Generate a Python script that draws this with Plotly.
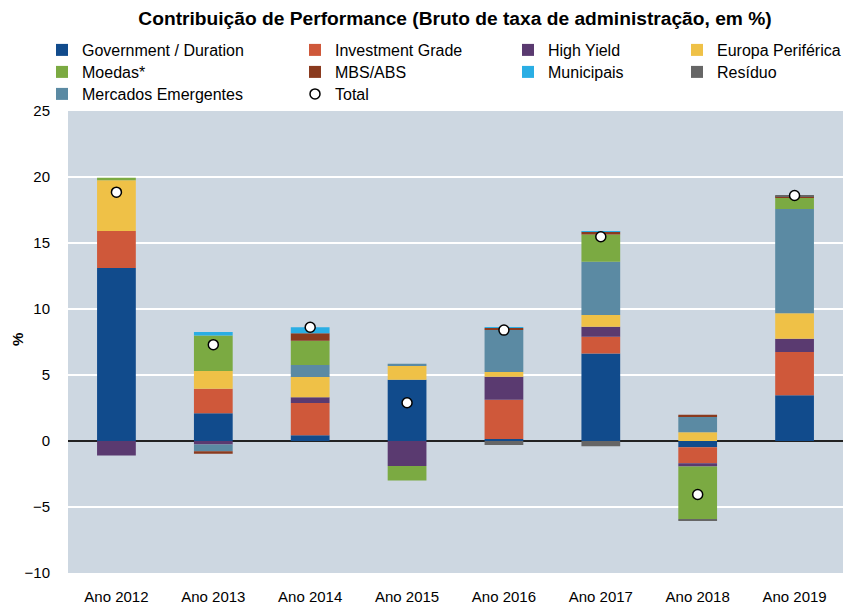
import plotly.graph_objects as go

years = ["Ano 2012", "Ano 2013", "Ano 2014", "Ano 2015", "Ano 2016", "Ano 2017", "Ano 2018", "Ano 2019"]
gov = [13.1, 2.1, 0.44, 4.64, 0.15, 6.63, -0.47, 3.46]
ig = [2.8, 1.86, 2.44, 0.0, 2.97, 1.26, -1.21, 3.28]
hy = [-1.1, -0.26, 0.43, -1.9, 1.75, 0.76, -0.25, 1.0]
ep = [3.85, 1.34, 1.54, 1.06, 0.35, 0.9, 0.67, 1.94]
em = [0.0, -0.51, 0.9, 0.15, 3.2, 4.03, 1.18, 7.9]
moedas = [0.2, 2.69, 1.84, -1.1, 0.0, 2.07, -4.0, 0.86]
mbs = [0.0, -0.2, 0.58, 0.0, 0.15, 0.2, 0.13, 0.05]
muni = [0.0, 0.26, 0.45, 0.0, 0.05, 0.05, 0.0, 0.0]
resid = [0.0, 0.0, 0.0, 0.0, -0.3, -0.4, -0.12, 0.1]
total = [18.85, 7.3, 8.62, 2.9, 8.4, 15.47, -4.05, 18.6]

FONT = "Liberation Sans, Arial, sans-serif"

# plot-area geometry in pixels (for placing the legend entries)
W, H = 843, 606
ML, MR, MT, MB = 68, 0, 111, 33
PW, PH = W - ML - MR, H - MT - MB

col_x = [42, 295, 508, 677]     # pixel x of each legend column
row_top = [33, 55, 77]          # pixel top of each legend row

series = [
    ("Government / Duration", gov, "#114B8C", (0, 0)),
    ("Investment Grade", ig, "#CF583A", (0, 1)),
    ("High Yield", hy, "#5A3A70", (0, 2)),
    ("Europa Periférica", ep, "#EFC147", (0, 3)),
    ("Mercados Emergentes", em, "#5B8AA3", (2, 0)),
    ("Moedas*", moedas, "#7BAA42", (1, 0)),
    ("MBS/ABS", mbs, "#8A3A1E", (1, 1)),
    ("Municipais", muni, "#2AAEE4", (1, 2)),
    ("Resíduo", resid, "#666666", (1, 3)),
]

fig = go.Figure()
legends = {}
n = 0
for name, vals, col, (r, c) in series:
    n += 1
    key = "legend" if n == 1 else f"legend{n}"
    legends[key] = (r, c)
    fig.add_trace(go.Bar(x=years, y=vals, name=name, marker=dict(color=col, line=dict(width=0)),
                         legend=key, showlegend=True))
n += 1
key = f"legend{n}"
legends[key] = (2, 1)
fig.add_trace(go.Scatter(x=years, y=total, name="Total", mode="markers",
                         marker=dict(symbol="circle", size=10, color="white",
                                     line=dict(color="black", width=1.5)),
                         legend=key, showlegend=True))

layout_legends = {}
for key, (r, c) in legends.items():
    layout_legends[key] = dict(
        x=(col_x[c] - ML) / PW, y=(H - MB - row_top[r]) / PH,
        xanchor="left", yanchor="top", orientation="v",
        bgcolor="rgba(0,0,0,0)", font=dict(family=FONT, size=16, color="black"),
        itemwidth=30)

fig.update_layout(
    width=W, height=H,
    margin=dict(l=ML, r=MR, t=MT, b=MB, autoexpand=False),
    showlegend=True,
    paper_bgcolor="white", plot_bgcolor="#CDD7E1",
    barmode="relative", bargap=0.6,
    font=dict(family=FONT, size=15, color="black"),
    title=dict(text="<b>Contribuição de Performance (Bruto de taxa de administração, em %)</b>",
               x=455 / W, xanchor="center", y=1 - 18 / H, yanchor="middle",
               font=dict(family=FONT, size=19.2, color="black")),
    xaxis=dict(showgrid=False, ticks="outside", ticklen=10, tickcolor="rgba(0,0,0,0)",
               tickfont=dict(size=15), showline=False),
    yaxis=dict(range=[-10, 25], dtick=5, tick0=0, gridcolor="white", gridwidth=1.5,
               zeroline=True, zerolinecolor="#222222", zerolinewidth=1.5,
               ticks="outside", ticklen=14, tickcolor="rgba(0,0,0,0)", tickfont=dict(size=15)),
    annotations=[dict(text="<b>%</b>", textangle=-90, xref="paper", yref="paper",
                      x=(17 - ML) / PW, y=(H - MB - 340) / PH, xanchor="center", yanchor="middle",
                      showarrow=False, font=dict(family=FONT, size=15, color="black"))],
    **layout_legends,
)

fig.write_html("out.html")
